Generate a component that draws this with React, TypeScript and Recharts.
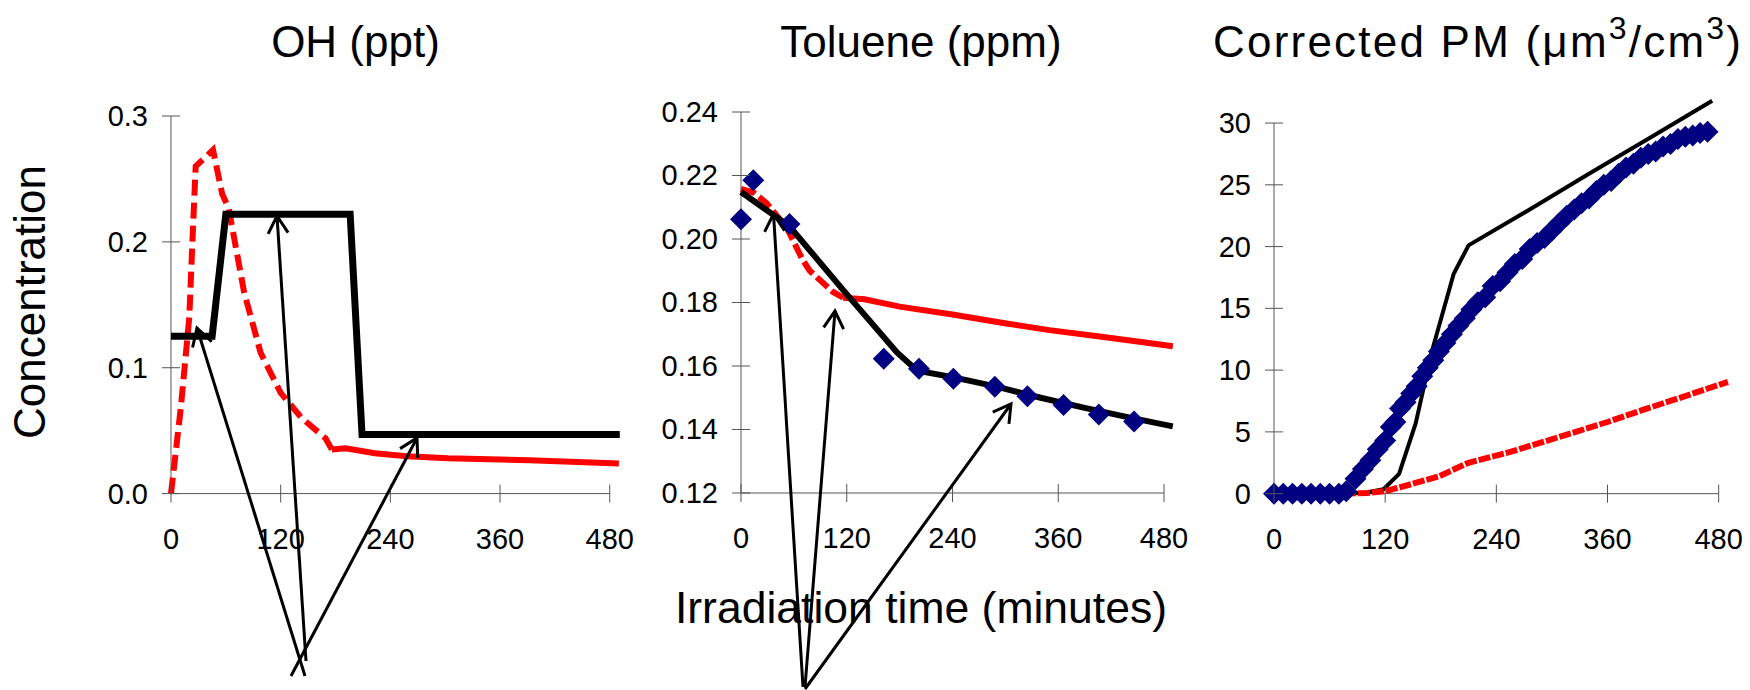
import React from 'react';
import { ComposedChart, Line, Scatter, XAxis, YAxis, ReferenceLine } from 'recharts';

const FONT = '"Liberation Sans", Arial, sans-serif';
const AXIS = '#555';
const RED = '#ff0000';
const NAVY = '#000080';

// shared time axis (minutes)
const X_TICKS = [0, 120, 240, 360, 480];
const X_DOMAIN: [number, number] = [0, 492];

// OH (ppt)
const OH_TICKS = [0, 0.1, 0.2, 0.3];
const OH_BLACK: [number, number][] = [
    [0, 0.125], [45, 0.125], [60, 0.222], [196, 0.222], [209, 0.047], [491, 0.047],
];
const OH_RED_DASH: [number, number][] = [
    [0, 0], [11, 0.07], [20, 0.14], [24, 0.21], [27, 0.26], [46, 0.273], [56, 0.238],
    [63, 0.227], [80, 0.16], [98, 0.112], [120, 0.08], [143, 0.06], [169, 0.044], [176, 0.035],
];
const OH_RED: [number, number][] = [
    [176, 0.035], [191, 0.036], [223, 0.032], [258, 0.0297], [303, 0.028], [392, 0.0265], [490, 0.024],
];

// Toluene (ppm)
const TOL_TICKS = [0.12, 0.14, 0.16, 0.18, 0.2, 0.22, 0.24];
const TOL_OBS: [number, number][] = [
    [0, 0.2062], [14, 0.2185], [55, 0.2047], [162, 0.1623], [202, 0.1591], [241, 0.156],
    [288, 0.1535], [325, 0.1505], [366, 0.1477], [406, 0.1447], [446, 0.1425],
];
const TOL_BLACK: [number, number][] = [
    [0, 0.2148], [55, 0.204], [116, 0.1839], [177, 0.1643], [200, 0.1585], [240, 0.1565],
    [290, 0.1535], [340, 0.150], [390, 0.1468], [440, 0.1438], [490, 0.141],
];
const TOL_RED_DASH: [number, number][] = [
    [0, 0.2158], [15, 0.2145], [29, 0.2113], [52, 0.2035], [70, 0.1934], [78, 0.190],
    [104, 0.1834], [116, 0.1815],
];
const TOL_RED: [number, number][] = [
    [116, 0.1815], [140, 0.181], [180, 0.1787], [240, 0.1762], [294, 0.1737], [350, 0.1713],
    [407, 0.1693], [450, 0.1677], [490, 0.1662],
];

// Corrected PM (um3/cm3)
const PM_TICKS = [0, 5, 10, 15, 20, 25, 30];
const PM_OBS: [number, number][] = [
    [0, 0], [10, 0], [20, 0], [30, 0], [40, 0], [50, 0], [60, 0], [70, 0], [78, 0.2],
    [88, 1.2], [96, 2.0], [104, 2.7], [112, 3.6], [120, 4.3], [126, 5.4], [131, 5.8],
    [136, 6.9], [142, 7.4], [148, 8.1], [154, 8.7], [160, 9.5], [166, 10.2], [172, 10.8],
    [178, 11.5], [185, 12.2], [192, 12.9], [199, 13.6], [206, 14.2], [213, 14.9], [220, 15.5],
    [228, 15.9], [236, 16.8], [244, 17.2], [252, 17.9], [260, 18.6], [268, 19.0], [276, 19.8],
    [284, 20.3], [292, 20.7], [300, 21.3], [308, 21.9], [316, 22.5], [324, 23.0], [332, 23.5],
    [340, 23.9], [348, 24.5], [356, 25.0], [364, 25.3], [372, 25.9], [380, 26.4], [388, 26.7],
    [396, 27.2], [404, 27.5], [412, 27.7], [420, 28.1], [428, 28.3], [436, 28.7], [444, 28.9],
    [452, 29.0], [460, 29.2], [468, 29.3],
];
const PM_BLACK: [number, number][] = [
    [0, 0], [40, 0], [80, 0], [100, 0.1], [118, 0.35], [135, 1.6], [153, 5.7], [170, 11.4],
    [182, 14.6], [194, 17.8], [210, 20.1], [276, 23.0], [340, 25.9], [410, 29.0], [473, 31.8],
];
const PM_RED: [number, number][] = [
    [0, 0], [60, 0], [100, 0.05], [120, 0.2], [145, 0.7], [178, 1.4], [210, 2.5], [256, 3.4],
    [317, 4.8], [360, 5.8], [399, 6.8], [448, 8.0], [490, 9.05],
];

// annotation arrows: tail x, tail y, tip x, tip y (page pixels)
const ARROWS = [
    [305, 676, 197, 328], [306, 661, 277, 216], [291, 676, 417, 438],
    [803, 687, 773.5, 214], [805, 687, 835, 311], [805, 689, 1011, 404],
];

const rows = (pts: [number, number][]) => pts.map(([t, v]) => ({ t, v }));

const YTick = (p: any) => (
    <g>
        <line x1={p.x - 9} x2={p.x + 9} y1={p.y} y2={p.y} stroke={AXIS} />
        <text x={p.x - 23} y={p.y + 10} textAnchor="end" fontSize={29} fontFamily={FONT} fill="#000">
            {p.fmt(p.payload.value)}
        </text>
    </g>
);

const XTick = (p: any) => (
    <g>
        <line x1={p.x} x2={p.x} y1={p.y - 9} y2={p.y + 9} stroke={AXIS} />
        <text x={p.x} y={p.y + 55} textAnchor="middle" fontSize={29} fontFamily={FONT} fill="#000">
            {p.payload.value}
        </text>
    </g>
);

const Diamond = (p: any) => (
    <path d={`M${p.cx},${p.cy - 11}L${p.cx + 11},${p.cy}L${p.cx},${p.cy + 11}L${p.cx - 11},${p.cy}Z`} fill={NAVY} />
);

type PanelProps = {
    left: number; top: number; plotW: number; plotH: number;
    yDomain: [number, number]; yTicks: number[]; yTop: number;
    fmt: (v: number) => string; children: React.ReactNode;
};

const Panel = ({ left, top, plotW, plotH, yDomain, yTicks, yTop, fmt, children }: PanelProps) => (
    <div style={{ position: 'absolute', left, top }}>
        <ComposedChart width={100 + plotW + 20} height={20 + plotH + 70} margin={{ top: 20, right: 20, bottom: 0, left: 0 }}>
            <XAxis dataKey="t" type="number" domain={X_DOMAIN} ticks={X_TICKS} interval={0} height={70}
                axisLine={false} tickLine={false} tickSize={0} tickMargin={0} tick={(p: any) => <XTick {...p} />} />
            <YAxis dataKey="v" type="number" domain={yDomain} ticks={yTicks} interval={0} width={100}
                axisLine={false} tickLine={false} tickSize={0} tickMargin={0} tick={(p: any) => <YTick {...p} fmt={fmt} />} />
            <ReferenceLine segment={[{ x: 0, y: yDomain[0] }, { x: 480, y: yDomain[0] }]} stroke={AXIS} strokeWidth={1} />
            <ReferenceLine segment={[{ x: 0, y: yDomain[0] }, { x: 0, y: yTop }]} stroke={AXIS} strokeWidth={1} />
            {children}
        </ComposedChart>
    </div>
);

const arrowHead = (x1: number, y1: number, x2: number, y2: number) => {
    const a = Math.atan2(y1 - y2, x1 - x2);
    const L = 20, s = Math.PI / 6;
    return `M${x2 + L * Math.cos(a + s)},${y2 + L * Math.sin(a + s)}L${x2},${y2}L${x2 + L * Math.cos(a - s)},${y2 + L * Math.sin(a - s)}`;
};

export default function App() {
    return (
        <div style={{ position: 'absolute', left: 0, top: 0, width: 1750, height: 690, background: '#fff', overflow: 'hidden' }}>
            <Panel left={71} top={95.7} plotW={449.7} plotH={377.6} yDomain={[0, 0.3]} yTicks={OH_TICKS} yTop={0.3}
                fmt={(v) => v.toFixed(1)}>
                <Line data={rows(OH_RED_DASH)} dataKey="v" type="linear" stroke={RED} strokeWidth={6}
                    strokeDasharray="16 7" dot={false} isAnimationActive={false} />
                <Line data={rows(OH_RED)} dataKey="v" type="linear" stroke={RED} strokeWidth={6} dot={false} isAnimationActive={false} />
                <Line data={rows(OH_BLACK)} dataKey="v" type="linear" stroke="#000" strokeWidth={7} dot={false} isAnimationActive={false} />
            </Panel>
            <Panel left={641} top={92.3} plotW={433.6} plotH={381} yDomain={[0.12, 0.24]} yTicks={TOL_TICKS} yTop={0.24}
                fmt={(v) => v.toFixed(2)}>
                <Line data={rows(TOL_RED_DASH)} dataKey="v" type="linear" stroke={RED} strokeWidth={6}
                    strokeDasharray="15 5" dot={false} isAnimationActive={false} />
                <Line data={rows(TOL_RED)} dataKey="v" type="linear" stroke={RED} strokeWidth={6} dot={false} isAnimationActive={false} />
                <Line data={rows(TOL_BLACK)} dataKey="v" type="linear" stroke="#000" strokeWidth={6} dot={false} isAnimationActive={false} />
                <Scatter data={rows(TOL_OBS)} dataKey="v" shape={Diamond} isAnimationActive={false} />
            </Panel>
            <Panel left={1174.3} top={65.65} plotW={455.8} plotH={407.65} yDomain={[0, 33]} yTicks={PM_TICKS} yTop={30}
                fmt={(v) => String(v)}>
                <Line data={rows(PM_BLACK)} dataKey="v" type="linear" stroke="#000" strokeWidth={4} dot={false} isAnimationActive={false} />
                <Line data={rows(PM_RED)} dataKey="v" type="linear" stroke={RED} strokeWidth={6}
                    strokeDasharray="12 2" dot={false} isAnimationActive={false} />
                <Scatter data={rows(PM_OBS)} dataKey="v" shape={Diamond} isAnimationActive={false} />
            </Panel>
            <svg width={1750} height={690} style={{ position: 'absolute', left: 0, top: 0, pointerEvents: 'none' }}
                fontFamily={FONT} fill="#000">
                <text x={355.5} y={57} fontSize={44} textAnchor="middle">OH (ppt)</text>
                <text x={921} y={57} fontSize={44} textAnchor="middle">Toluene (ppm)</text>
                <text x={1213} y={57} fontSize={44} textLength={528} lengthAdjust="spacing">
                    Corrected PM (μm<tspan dy={-18} fontSize={32}>3</tspan><tspan dy={18}>/cm</tspan>
                    <tspan dy={-18} fontSize={32}>3</tspan><tspan dy={18}>)</tspan>
                </text>
                <text x={45} y={302} fontSize={44} textAnchor="middle" transform="rotate(-90 45 302)">Concentration</text>
                <text x={921} y={623} fontSize={44.5} textAnchor="middle">Irradiation time (minutes)</text>
                {ARROWS.map(([x1, y1, x2, y2], i) => (
                    <g key={i} stroke="#000" strokeWidth={3} fill="none">
                        <line x1={x1} y1={y1} x2={x2} y2={y2} />
                        <path d={arrowHead(x1, y1, x2, y2)} />
                    </g>
                ))}
            </svg>
        </div>
    );
}
